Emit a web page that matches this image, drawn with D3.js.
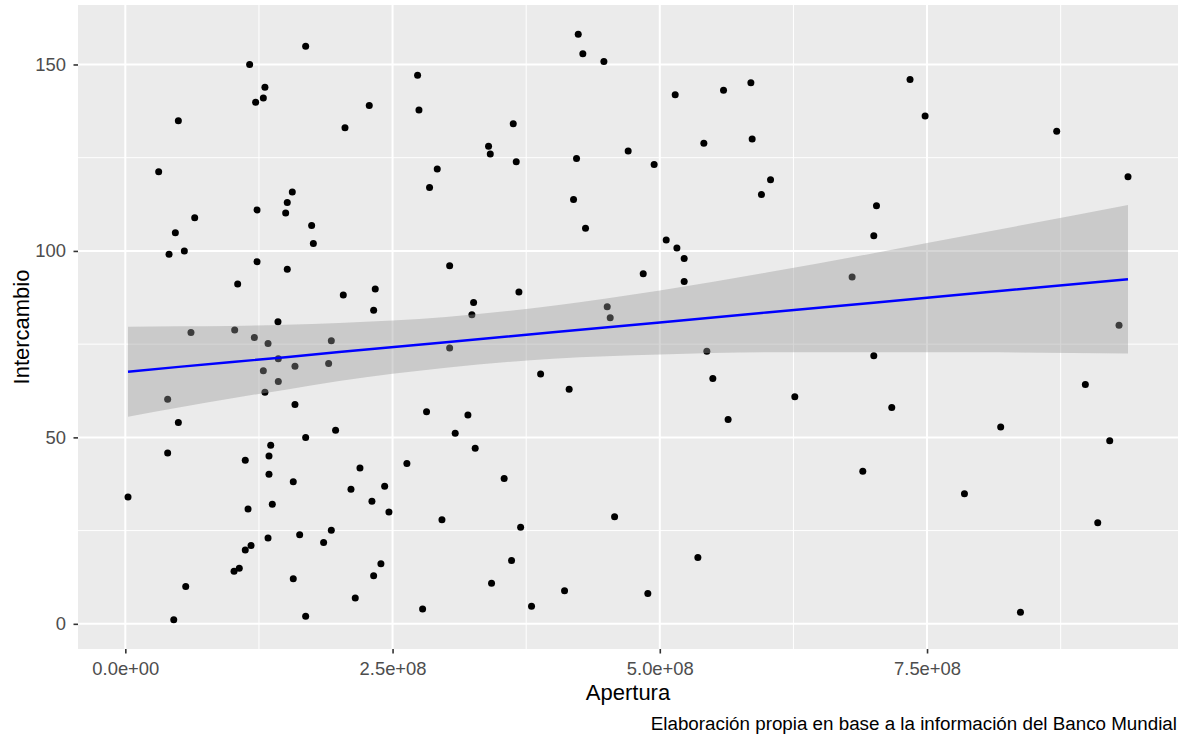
<!DOCTYPE html>
<html>
<head>
<meta charset="utf-8">
<script src="https://cdn.jsdelivr.net/npm/d3@7"></script>
<style>
    body { margin: 0; background: #fff; }
    svg text { font-family: "Liberation Sans", Arial, sans-serif; }
</style>
</head>
<body>
<div id="chart"></div>
<script>
// values
const apertura = [
    1.687e8, 1.163e8, 1.306e8, 1.291e8, 1.219e8, 2.734e8, 2.747e8, 2.282e8, 2.055e8, 0.496e8,
    0.312e8, 2.918e8, 2.846e8, 1.562e8, 1.515e8, 1.500e8, 1.232e8, 0.649e8, 0.468e8, 0.552e8,
    0.409e8, 1.743e8, 1.759e8, 1.232e8, 1.515e8, 1.051e8, 2.039e8, 2.338e8, 2.323e8, 1.428e8,
    0.614e8, 1.023e8, 1.207e8, 1.335e8, 1.927e8, 1.431e8, 1.587e8, 1.902e8, 1.291e8, 1.431e8,
    1.306e8, 0.396e8, 1.587e8, 2.818e8, 0.496e8, 1.967e8, 1.687e8, 0.396e8, 1.360e8, 1.344e8,
    1.122e8, 2.634e8, 2.195e8, 1.344e8, 1.571e8, 2.426e8, 2.111e8, 0.025e8, 2.307e8, 1.375e8,
    1.148e8, 2.466e8, 2.962e8, 1.927e8, 1.631e8, 1.335e8, 1.855e8, 1.176e8, 1.122e8, 1.066e8,
    1.017e8, 2.391e8, 2.323e8, 1.571e8, 0.565e8, 2.151e8, 2.781e8, 1.687e8, 0.453e8, 3.034e8,
    4.237e8, 4.280e8, 4.477e8, 5.144e8, 5.596e8, 5.852e8, 3.629e8, 3.398e8, 3.414e8, 3.657e8,
    4.221e8, 4.704e8, 4.947e8, 5.412e8, 5.864e8, 6.036e8, 5.951e8, 4.193e8, 4.305e8, 5.060e8,
    5.160e8, 5.228e8, 4.845e8, 5.228e8, 3.034e8, 3.682e8, 3.258e8, 3.242e8, 4.508e8, 4.536e8,
    5.440e8, 3.885e8, 4.152e8, 5.496e8, 6.263e8, 5.639e8, 3.205e8, 3.086e8, 3.273e8, 3.544e8,
    3.698e8, 4.577e8, 3.613e8, 5.356e8, 3.426e8, 4.109e8, 4.888e8, 3.800e8,
    7.341e8, 7.482e8, 8.713e8, 9.380e8, 7.027e8, 7.002e8, 6.799e8, 9.296e8,
    7.002e8, 7.170e8, 6.899e8, 8.189e8, 8.981e8, 9.209e8, 7.850e8, 9.097e8, 8.374e8
];
const intercambio = [
    154.9, 150.0, 143.9, 141.0, 139.9, 147.1, 137.8, 139.0, 133.0, 134.9,
    121.2, 122.0, 117.0, 115.8, 113.0, 110.2, 111.0, 108.9, 104.9, 100.0,
    99.1, 106.8, 102.0, 97.1, 95.1, 91.1, 88.2, 89.8, 84.1, 81.0,
    78.1, 78.8, 76.8, 75.2, 75.9, 71.1, 69.1, 69.8, 67.9, 65.0,
    62.1, 60.2, 58.8, 56.9, 54.0, 51.9, 50.0, 45.8, 47.9, 45.0,
    43.9, 43.0, 41.8, 40.1, 38.1, 36.9, 36.1, 34.0, 32.9, 32.1,
    30.8, 30.0, 27.9, 25.1, 23.9, 23.0, 21.8, 21.0, 19.8, 14.9,
    14.1, 16.1, 12.9, 12.1, 10.0, 6.9, 4.0, 2.0, 1.1, 74.0,
    158.1, 152.9, 150.8, 141.9, 143.1, 145.1, 134.1, 128.1, 126.0, 123.9,
    124.8, 126.8, 123.2, 128.9, 130.0, 119.1, 115.1, 113.8, 106.1, 102.9,
    100.8, 98.0, 93.9, 91.8, 96.0, 89.0, 86.2, 82.9, 85.0, 82.1,
    73.1, 67.0, 62.9, 65.8, 60.9, 54.8, 56.0, 51.1, 47.1, 39.0,
    25.9, 28.7, 17.0, 17.8, 10.9, 8.9, 8.1, 4.7,
    146.0, 136.2, 132.1, 119.9, 112.1, 104.1, 93.0, 80.1,
    71.9, 58.0, 40.9, 52.8, 64.2, 49.1, 34.9, 27.1, 3.1
];

// lm smooth with its confidence band, read at a few x positions
const smoothX = [0.025e8, 0.5e8, 1.0e8, 1.5e8, 2.0e8, 3.0e8, 4.0e8, 5.0e8, 6.0e8, 7.0e8, 8.0e8, 9.38e8];
const smoothFit = [67.6, 68.9, 70.2, 71.5, 72.9, 75.5, 78.2, 80.8, 83.5, 86.1, 88.8, 92.4];
const smoothLo = [55.5, 58.0, 60.5, 62.8, 65.1, 68.7, 71.1, 72.2, 72.8, 72.8, 72.8, 72.5];
const smoothHi = [79.7, 79.8, 79.9, 80.2, 80.7, 82.3, 85.3, 89.4, 94.2, 99.4, 104.8, 112.3];

const xTicks = [0, 2.5e8, 5e8, 7.5e8];
const xMinor = [1.25e8, 3.75e8, 6.25e8, 8.75e8];
const yTicks = [0, 50, 100, 150];
const yMinor = [25, 75, 125];

const xTitle = 'Apertura';
const yTitle = 'Intercambio';
const caption = 'Elaboración propia en base a la información del Banco Mundial';

const totalWidth = 1182;
const totalHeight = 740;
var margin = {top: 5, right: 4, bottom: 91, left: 78};
var width = totalWidth - margin.left - margin.right;
var height = totalHeight - margin.top - margin.bottom;

const data = apertura.map(function(x, i){ return {x: x, y: intercambio[i]} });
const band = smoothX.map(function(x, i){
    return {x: x, fit: smoothFit[i], lo: smoothLo[i], hi: smoothHi[i]}
});

// ggplot style expansion, 5% on each side of the data range
function expand(ext){
    const pad = (ext[1] - ext[0]) * 0.05;
    return [ext[0] - pad, ext[1] + pad]
}

// R style scientific labels: 2.5e+08
function sci(v){
    let s = d3.format('.1e')(v);
    let parts = s.split('e');
    let sign = parts[1][0];
    let exp = parts[1].slice(1).padStart(2, '0');
    return parts[0] + 'e' + sign + exp
}

var xScale = d3.scaleLinear()
        .domain(expand(d3.extent(apertura)))
        .range([0, width]);

var yScale = d3.scaleLinear()
        .domain(expand(d3.extent(intercambio)))
        .range([height, 0]);

var svg = d3.select('#chart').append('svg')
        .attr('width', totalWidth)
        .attr('height', totalHeight);

var g = svg.append('g')
        .attr('transform', 'translate(' + margin.left + ',' + margin.top + ')');

//panel background
g.append('rect')
        .attr('width', width)
        .attr('height', height)
        .style('fill', '#EBEBEB');

//grid, minor first
g.selectAll('.xminor').data(xMinor).enter().append('line')
        .attr('x1', function(d){ return xScale(d) })
        .attr('x2', function(d){ return xScale(d) })
        .attr('y1', 0).attr('y2', height)
        .style('stroke', '#fff').style('stroke-width', 1);
g.selectAll('.yminor').data(yMinor).enter().append('line')
        .attr('y1', function(d){ return yScale(d) })
        .attr('y2', function(d){ return yScale(d) })
        .attr('x1', 0).attr('x2', width)
        .style('stroke', '#fff').style('stroke-width', 1);
g.selectAll('.xmajor').data(xTicks).enter().append('line')
        .attr('x1', function(d){ return xScale(d) })
        .attr('x2', function(d){ return xScale(d) })
        .attr('y1', 0).attr('y2', height)
        .style('stroke', '#fff').style('stroke-width', 2);
g.selectAll('.ymajor').data(yTicks).enter().append('line')
        .attr('y1', function(d){ return yScale(d) })
        .attr('y2', function(d){ return yScale(d) })
        .attr('x1', 0).attr('x2', width)
        .style('stroke', '#fff').style('stroke-width', 2);

//points
g.selectAll('circle')
        .data(data)
    .enter().append('circle')
        .attr('cx', function(d){ return xScale(d.x) })
        .attr('cy', function(d){ return yScale(d.y) })
        .attr('r', 3.5)
        .style('fill', '#000');

//confidence band sits over the points, like geom_smooth
var area = d3.area()
        .x(function(d){ return xScale(d.x) })
        .y0(function(d){ return yScale(d.lo) })
        .y1(function(d){ return yScale(d.hi) })
        .curve(d3.curveMonotoneX);

g.append('path')
        .datum(band)
        .attr('d', area)
        .style('fill', '#999999')
        .style('fill-opacity', 0.4);

var line = d3.line()
        .x(function(d){ return xScale(d.x) })
        .y(function(d){ return yScale(d.fit) });

g.append('path')
        .datum(band)
        .attr('d', line)
        .style('fill', 'none')
        .style('stroke', 'blue')
        .style('stroke-width', 2.4);

//axes
var xAxis = d3.axisBottom(xScale)
        .tickValues(xTicks)
        .tickFormat(sci)
        .tickSize(4.5)
        .tickPadding(8.4);

var yAxis = d3.axisLeft(yScale)
        .tickValues(yTicks)
        .tickSize(4.5)
        .tickPadding(7.5);

g.append('g')
        .attr('class', 'x axis')
        .attr('transform', 'translate(0,' + height + ')')
        .call(xAxis);

g.append('g')
        .attr('class', 'y axis')
        .call(yAxis);

g.selectAll('.axis .domain').remove();
g.selectAll('.axis line')
        .style('stroke', '#333333')
        .style('stroke-width', 1.6);
g.selectAll('.axis text')
        .style('fill', '#4D4D4D')
        .style('font-size', '18.4px');

//titles and caption
svg.append('text')
        .attr('x', margin.left + width / 2)
        .attr('y', 700)
        .attr('text-anchor', 'middle')
        .style('font-size', '22px')
        .style('fill', '#000')
        .text(xTitle);

svg.append('text')
        .attr('transform', 'translate(29,' + (margin.top + height / 2) + ') rotate(-90)')
        .attr('text-anchor', 'middle')
        .style('font-size', '22px')
        .style('fill', '#000')
        .text(yTitle);

svg.append('text')
        .attr('x', 1177)
        .attr('y', 730)
        .attr('text-anchor', 'end')
        .style('font-size', '18.8px')
        .style('fill', '#000')
        .text(caption);
</script>
</body>
</html>
